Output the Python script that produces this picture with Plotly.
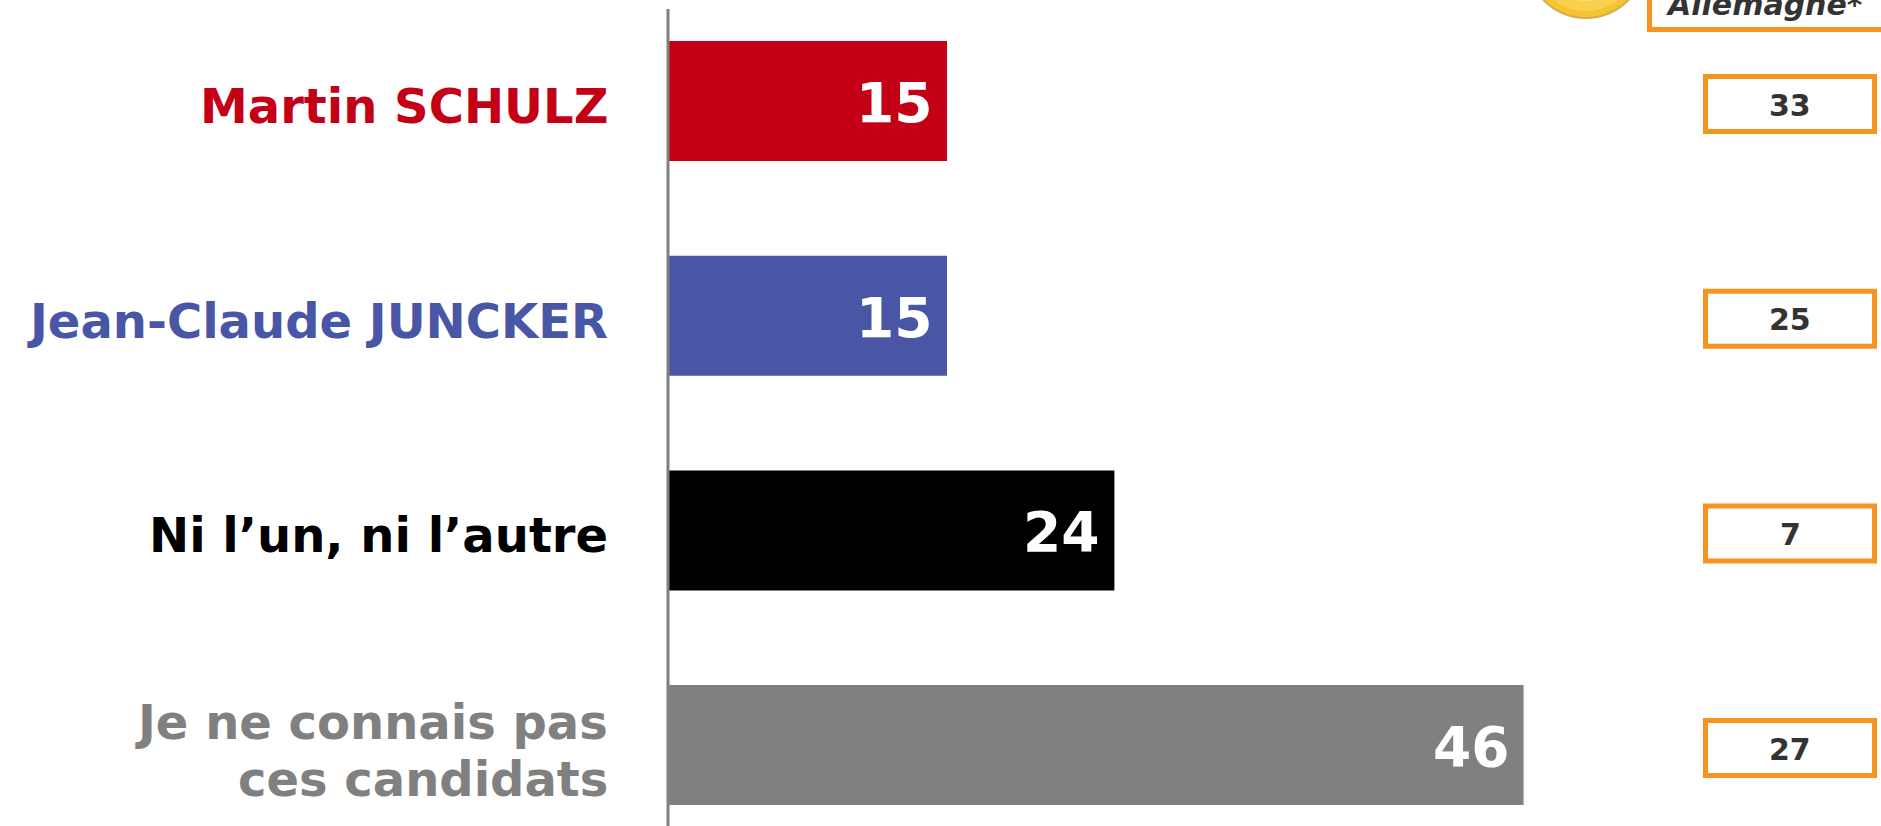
import plotly.graph_objects as go

label_lines = [["Martin SCHULZ"], ["Jean-Claude JUNCKER"], ["Ni l’un, ni l’autre"], ["Je ne connais pas", "ces candidats"]]
values = [15, 15, 24, 46]
germany = [33, 25, 7, 27]
colors = ["#C40016", "#4856A5", "#000000", "#808080"]
label_colors = ["#C40016", "#4856A5", "#000000", "#808080"]
box_header = "Allemagne*"

W, H = 1881, 826
PX_PER_UNIT = 18.6
X0 = 668
Y_TOP = 101
PITCH = 214.7
FONT = "DejaVu Sans"
ORANGE = "#F7931E"
DARK = "#333333"

fig = go.Figure(go.Bar(
    y=list(range(len(values))), x=values, orientation="h",
    marker=dict(color=colors, line=dict(width=0)), width=0.559,
    hoverinfo="skip",
))

ann = []
for i, (lines, v, g) in enumerate(zip(label_lines, values, germany)):
    n = len(lines)
    for j, line in enumerate(lines):
        ann.append(dict(x=0, y=i, xref="x", yref="y", text=f"<b>{line}</b>", showarrow=False,
                        xanchor="right", yanchor="middle", xshift=-58,
                        yshift=-5 - ((j - (n - 1) / 2) * 57),
                        font=dict(family=FONT, size=48, color=label_colors[i])))
    ann.append(dict(x=v, y=i, xref="x", yref="y", text=f"<b>{v}</b>", showarrow=False,
                    xanchor="right", yanchor="middle", xshift=-12, yshift=-2,
                    font=dict(family=FONT, size=55, color="white")))
    ann.append(dict(x=1790 / W, y=i, xref="paper", yref="y", text=f"<b>{g}</b>", showarrow=False,
                    xanchor="center", yanchor="middle", yshift=-4,
                    font=dict(family=FONT, size=30, color=DARK)))
ann.append(dict(x=1764 / W, y=1 - 5 / H, xref="paper", yref="paper", text=f"<b><i>{box_header}</i></b>",
                showarrow=False, xanchor="center", yanchor="middle",
                font=dict(family=FONT, size=30, color=DARK)))

shapes = [
    dict(type="line", xref="x", yref="paper", x0=0, x1=0, y0=0, y1=1 - 9 / H,
         line=dict(color="#808080", width=3), layer="above"),
    dict(type="rect", xref="paper", yref="paper", x0=1649.5 / W, x1=1900 / W, y0=1 - 29.5 / H, y1=1 + 40 / H,
         line=dict(color=ORANGE, width=5), fillcolor="white"),
]
for i in range(len(germany)):
    shapes.append(dict(type="rect", xref="paper", yref="y", x0=1705.5 / W, x1=1874.5 / W,
                       y0=i + (3 - 27.5) / PITCH, y1=i + (3 + 27.5) / PITCH,
                       line=dict(color=ORANGE, width=5), fillcolor="white", layer="below"))
for r, col in [(60, "#D5B048"), (58, "#F5C433"), (52, "#F9D04E"), (42, "#FBE07F")]:
    cy = -41
    shapes.append(dict(type="circle", xref="paper", yref="paper",
                       x0=(1586 - r) / W, x1=(1586 + r) / W,
                       y0=1 - (cy + r) / H, y1=1 - (cy - r) / H,
                       line=dict(width=0), fillcolor=col))

fig.update_layout(
    width=W, height=H, autosize=False,
    margin=dict(l=0, r=0, t=0, b=0),
    paper_bgcolor="white", plot_bgcolor="white", showlegend=False,
    xaxis=dict(range=[-X0 / PX_PER_UNIT, (W - X0) / PX_PER_UNIT], visible=False, fixedrange=True),
    yaxis=dict(range=[(H - Y_TOP) / PITCH, -Y_TOP / PITCH], visible=False, fixedrange=True),
    annotations=ann, shapes=shapes,
)
fig.write_html("out.html", config={"displayModeBar": False, "responsive": False},
               post_script="document.body.style.margin='0';document.body.style.overflow='hidden';")
